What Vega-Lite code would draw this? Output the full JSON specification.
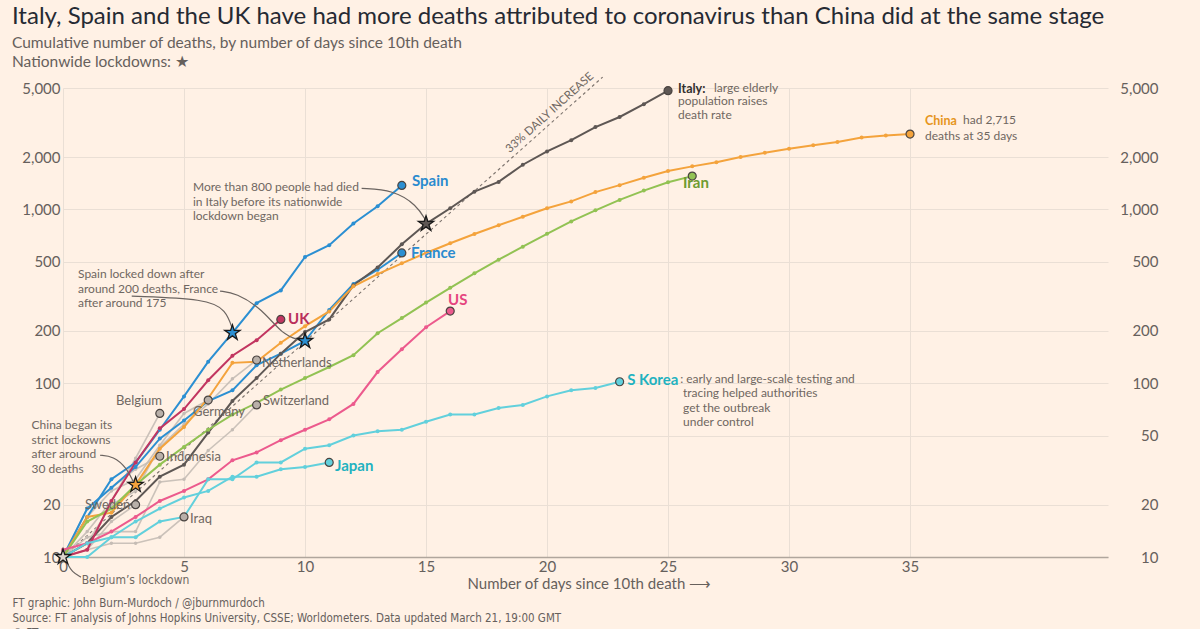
{
  "$schema": "https://vega.github.io/schema/vega-lite/v6.json",
  "width": 1045,
  "height": 469,
  "autosize": "none",
  "padding": {"left": 63, "top": 88, "right": 92, "bottom": 72},
  "background": "#fff1e5",
  "title": {
    "text": "Italy, Spain and the UK have had more deaths attributed to coronavirus than China did at the same stage",
    "subtitle": ["Cumulative number of deaths, by number of days since 10th death", "Nationwide lockdowns: ★"],
    "anchor": "start",
    "frame": "group",
    "dx": -51,
    "dy": 12,
    "offset": 12,
    "font": "Lato",
    "fontSize": 24,
    "fontWeight": "normal",
    "color": "#262a33",
    "subtitleFont": "Lato",
    "subtitleFontSize": 15.5,
    "subtitleColor": "#66605c",
    "subtitleLineHeight": 18.5,
    "subtitlePadding": 7
  },
  "datasets": {
    "deaths": [
      {"country": "Spain", "day": 0, "deaths": 10}, {"country": "Spain", "day": 1, "deaths": 17}, {"country": "Spain", "day": 2, "deaths": 28}, {"country": "Spain", "day": 3, "deaths": 35}, {"country": "Spain", "day": 4, "deaths": 54}, {"country": "Spain", "day": 5, "deaths": 84}, {"country": "Spain", "day": 6, "deaths": 133}, {"country": "Spain", "day": 7, "deaths": 195}, {"country": "Spain", "day": 8, "deaths": 289}, {"country": "Spain", "day": 9, "deaths": 342}, {"country": "Spain", "day": 10, "deaths": 533}, {"country": "Spain", "day": 11, "deaths": 623}, {"country": "Spain", "day": 12, "deaths": 830}, {"country": "Spain", "day": 13, "deaths": 1043}, {"country": "Spain", "day": 14, "deaths": 1375},
      {"country": "France", "day": 0, "deaths": 10}, {"country": "France", "day": 1, "deaths": 19}, {"country": "France", "day": 2, "deaths": 25}, {"country": "France", "day": 3, "deaths": 33}, {"country": "France", "day": 4, "deaths": 48}, {"country": "France", "day": 5, "deaths": 61}, {"country": "France", "day": 6, "deaths": 79}, {"country": "France", "day": 7, "deaths": 91}, {"country": "France", "day": 8, "deaths": 127}, {"country": "France", "day": 9, "deaths": 148}, {"country": "France", "day": 10, "deaths": 175}, {"country": "France", "day": 11, "deaths": 264}, {"country": "France", "day": 12, "deaths": 372}, {"country": "France", "day": 13, "deaths": 450}, {"country": "France", "day": 14, "deaths": 562},
      {"country": "Italy", "day": 0, "deaths": 10}, {"country": "Italy", "day": 1, "deaths": 12}, {"country": "Italy", "day": 2, "deaths": 17}, {"country": "Italy", "day": 3, "deaths": 21}, {"country": "Italy", "day": 4, "deaths": 29}, {"country": "Italy", "day": 5, "deaths": 34}, {"country": "Italy", "day": 6, "deaths": 52}, {"country": "Italy", "day": 7, "deaths": 79}, {"country": "Italy", "day": 8, "deaths": 107}, {"country": "Italy", "day": 9, "deaths": 148}, {"country": "Italy", "day": 10, "deaths": 197}, {"country": "Italy", "day": 11, "deaths": 233}, {"country": "Italy", "day": 12, "deaths": 366}, {"country": "Italy", "day": 13, "deaths": 463}, {"country": "Italy", "day": 14, "deaths": 631}, {"country": "Italy", "day": 15, "deaths": 827}, {"country": "Italy", "day": 16, "deaths": 1016}, {"country": "Italy", "day": 17, "deaths": 1266}, {"country": "Italy", "day": 18, "deaths": 1441}, {"country": "Italy", "day": 19, "deaths": 1809}, {"country": "Italy", "day": 20, "deaths": 2158}, {"country": "Italy", "day": 21, "deaths": 2503}, {"country": "Italy", "day": 22, "deaths": 2978}, {"country": "Italy", "day": 23, "deaths": 3405}, {"country": "Italy", "day": 24, "deaths": 4032}, {"country": "Italy", "day": 25, "deaths": 4825},
      {"country": "China", "day": 0, "deaths": 10}, {"country": "China", "day": 1, "deaths": 17}, {"country": "China", "day": 2, "deaths": 18}, {"country": "China", "day": 3, "deaths": 26}, {"country": "China", "day": 4, "deaths": 42}, {"country": "China", "day": 5, "deaths": 56}, {"country": "China", "day": 6, "deaths": 82}, {"country": "China", "day": 7, "deaths": 131}, {"country": "China", "day": 8, "deaths": 133}, {"country": "China", "day": 9, "deaths": 171}, {"country": "China", "day": 10, "deaths": 213}, {"country": "China", "day": 11, "deaths": 259}, {"country": "China", "day": 12, "deaths": 361}, {"country": "China", "day": 13, "deaths": 425}, {"country": "China", "day": 14, "deaths": 490}, {"country": "China", "day": 15, "deaths": 562}, {"country": "China", "day": 16, "deaths": 639}, {"country": "China", "day": 17, "deaths": 722}, {"country": "China", "day": 18, "deaths": 811}, {"country": "China", "day": 19, "deaths": 908}, {"country": "China", "day": 20, "deaths": 1016}, {"country": "China", "day": 21, "deaths": 1113}, {"country": "China", "day": 22, "deaths": 1259}, {"country": "China", "day": 23, "deaths": 1380}, {"country": "China", "day": 24, "deaths": 1523}, {"country": "China", "day": 25, "deaths": 1665}, {"country": "China", "day": 26, "deaths": 1770}, {"country": "China", "day": 27, "deaths": 1868}, {"country": "China", "day": 28, "deaths": 2004}, {"country": "China", "day": 29, "deaths": 2118}, {"country": "China", "day": 30, "deaths": 2236}, {"country": "China", "day": 31, "deaths": 2345}, {"country": "China", "day": 32, "deaths": 2442}, {"country": "China", "day": 33, "deaths": 2592}, {"country": "China", "day": 34, "deaths": 2663}, {"country": "China", "day": 35, "deaths": 2715},
      {"country": "Iran", "day": 0, "deaths": 10}, {"country": "Iran", "day": 1, "deaths": 16}, {"country": "Iran", "day": 2, "deaths": 19}, {"country": "Iran", "day": 3, "deaths": 26}, {"country": "Iran", "day": 4, "deaths": 34}, {"country": "Iran", "day": 5, "deaths": 43}, {"country": "Iran", "day": 6, "deaths": 54}, {"country": "Iran", "day": 7, "deaths": 66}, {"country": "Iran", "day": 8, "deaths": 77}, {"country": "Iran", "day": 9, "deaths": 92}, {"country": "Iran", "day": 10, "deaths": 107}, {"country": "Iran", "day": 11, "deaths": 124}, {"country": "Iran", "day": 12, "deaths": 145}, {"country": "Iran", "day": 13, "deaths": 194}, {"country": "Iran", "day": 14, "deaths": 237}, {"country": "Iran", "day": 15, "deaths": 291}, {"country": "Iran", "day": 16, "deaths": 354}, {"country": "Iran", "day": 17, "deaths": 429}, {"country": "Iran", "day": 18, "deaths": 514}, {"country": "Iran", "day": 19, "deaths": 611}, {"country": "Iran", "day": 20, "deaths": 724}, {"country": "Iran", "day": 21, "deaths": 853}, {"country": "Iran", "day": 22, "deaths": 988}, {"country": "Iran", "day": 23, "deaths": 1135}, {"country": "Iran", "day": 24, "deaths": 1284}, {"country": "Iran", "day": 25, "deaths": 1433}, {"country": "Iran", "day": 26, "deaths": 1556},
      {"country": "US", "day": 0, "deaths": 11}, {"country": "US", "day": 1, "deaths": 12}, {"country": "US", "day": 2, "deaths": 14}, {"country": "US", "day": 3, "deaths": 17}, {"country": "US", "day": 4, "deaths": 21}, {"country": "US", "day": 5, "deaths": 24}, {"country": "US", "day": 6, "deaths": 28}, {"country": "US", "day": 7, "deaths": 36}, {"country": "US", "day": 8, "deaths": 40}, {"country": "US", "day": 9, "deaths": 47}, {"country": "US", "day": 10, "deaths": 54}, {"country": "US", "day": 11, "deaths": 62}, {"country": "US", "day": 12, "deaths": 76}, {"country": "US", "day": 13, "deaths": 116}, {"country": "US", "day": 14, "deaths": 157}, {"country": "US", "day": 15, "deaths": 210}, {"country": "US", "day": 16, "deaths": 260},
      {"country": "UK", "day": 0, "deaths": 10}, {"country": "UK", "day": 1, "deaths": 11}, {"country": "UK", "day": 2, "deaths": 21}, {"country": "UK", "day": 3, "deaths": 35}, {"country": "UK", "day": 4, "deaths": 55}, {"country": "UK", "day": 5, "deaths": 71}, {"country": "UK", "day": 6, "deaths": 104}, {"country": "UK", "day": 7, "deaths": 144}, {"country": "UK", "day": 8, "deaths": 177}, {"country": "UK", "day": 9, "deaths": 233},
      {"country": "S Korea", "day": 0, "deaths": 10}, {"country": "S Korea", "day": 1, "deaths": 12}, {"country": "S Korea", "day": 2, "deaths": 13}, {"country": "S Korea", "day": 3, "deaths": 13}, {"country": "S Korea", "day": 4, "deaths": 16}, {"country": "S Korea", "day": 5, "deaths": 17}, {"country": "S Korea", "day": 6, "deaths": 28}, {"country": "S Korea", "day": 7, "deaths": 28}, {"country": "S Korea", "day": 8, "deaths": 35}, {"country": "S Korea", "day": 9, "deaths": 35}, {"country": "S Korea", "day": 10, "deaths": 42}, {"country": "S Korea", "day": 11, "deaths": 44}, {"country": "S Korea", "day": 12, "deaths": 50}, {"country": "S Korea", "day": 13, "deaths": 53}, {"country": "S Korea", "day": 14, "deaths": 54}, {"country": "S Korea", "day": 15, "deaths": 60}, {"country": "S Korea", "day": 16, "deaths": 66}, {"country": "S Korea", "day": 17, "deaths": 66}, {"country": "S Korea", "day": 18, "deaths": 72}, {"country": "S Korea", "day": 19, "deaths": 75}, {"country": "S Korea", "day": 20, "deaths": 84}, {"country": "S Korea", "day": 21, "deaths": 91}, {"country": "S Korea", "day": 22, "deaths": 94}, {"country": "S Korea", "day": 23, "deaths": 102},
      {"country": "Japan", "day": 0, "deaths": 10}, {"country": "Japan", "day": 1, "deaths": 10}, {"country": "Japan", "day": 2, "deaths": 13}, {"country": "Japan", "day": 3, "deaths": 16}, {"country": "Japan", "day": 4, "deaths": 19}, {"country": "Japan", "day": 5, "deaths": 22}, {"country": "Japan", "day": 6, "deaths": 24}, {"country": "Japan", "day": 7, "deaths": 29}, {"country": "Japan", "day": 8, "deaths": 29}, {"country": "Japan", "day": 9, "deaths": 32}, {"country": "Japan", "day": 10, "deaths": 33}, {"country": "Japan", "day": 11, "deaths": 35},
      {"country": "Belgium", "day": 0, "deaths": 10}, {"country": "Belgium", "day": 1, "deaths": 14}, {"country": "Belgium", "day": 2, "deaths": 21}, {"country": "Belgium", "day": 3, "deaths": 37}, {"country": "Belgium", "day": 4, "deaths": 67},
      {"country": "Germany", "day": 0, "deaths": 10}, {"country": "Germany", "day": 1, "deaths": 17}, {"country": "Germany", "day": 2, "deaths": 24}, {"country": "Germany", "day": 3, "deaths": 28}, {"country": "Germany", "day": 4, "deaths": 44}, {"country": "Germany", "day": 5, "deaths": 67}, {"country": "Germany", "day": 6, "deaths": 80},
      {"country": "Netherlands", "day": 0, "deaths": 10}, {"country": "Netherlands", "day": 1, "deaths": 12}, {"country": "Netherlands", "day": 2, "deaths": 20}, {"country": "Netherlands", "day": 3, "deaths": 24}, {"country": "Netherlands", "day": 4, "deaths": 43}, {"country": "Netherlands", "day": 5, "deaths": 58}, {"country": "Netherlands", "day": 6, "deaths": 76}, {"country": "Netherlands", "day": 7, "deaths": 106}, {"country": "Netherlands", "day": 8, "deaths": 136},
      {"country": "Switzerland", "day": 0, "deaths": 10}, {"country": "Switzerland", "day": 1, "deaths": 13}, {"country": "Switzerland", "day": 2, "deaths": 14}, {"country": "Switzerland", "day": 3, "deaths": 14}, {"country": "Switzerland", "day": 4, "deaths": 27}, {"country": "Switzerland", "day": 5, "deaths": 28}, {"country": "Switzerland", "day": 6, "deaths": 41}, {"country": "Switzerland", "day": 7, "deaths": 54}, {"country": "Switzerland", "day": 8, "deaths": 75},
      {"country": "Indonesia", "day": 0, "deaths": 10}, {"country": "Indonesia", "day": 1, "deaths": 19}, {"country": "Indonesia", "day": 2, "deaths": 25}, {"country": "Indonesia", "day": 3, "deaths": 32}, {"country": "Indonesia", "day": 4, "deaths": 38},
      {"country": "Sweden", "day": 0, "deaths": 10}, {"country": "Sweden", "day": 1, "deaths": 11}, {"country": "Sweden", "day": 2, "deaths": 16}, {"country": "Sweden", "day": 3, "deaths": 20},
      {"country": "Iraq", "day": 0, "deaths": 10}, {"country": "Iraq", "day": 1, "deaths": 11}, {"country": "Iraq", "day": 2, "deaths": 12}, {"country": "Iraq", "day": 3, "deaths": 12}, {"country": "Iraq", "day": 4, "deaths": 13}, {"country": "Iraq", "day": 5, "deaths": 17}
    ],
    "reference": [
      {"day": 0, "deaths": 10},
      {"day": 22.3, "deaths": 5780}
    ],
    "lockdowns": [
      {"country": "Belgium", "day": 0, "deaths": 10},
      {"country": "China", "day": 3, "deaths": 26},
      {"country": "Spain", "day": 7, "deaths": 195},
      {"country": "France", "day": 10, "deaths": 175},
      {"country": "Italy", "day": 15, "deaths": 827}
    ],
    "connectors": [
      {"note": "italy", "step": 1, "day": 12.34, "deaths": 1322}, {"note": "italy", "step": 2, "day": 13.65, "deaths": 1293}, {"note": "italy", "step": 3, "day": 14.62, "deaths": 1059}, {"note": "italy", "step": 4, "day": 15.0, "deaths": 860},
      {"note": "spain", "step": 1, "day": 2.84, "deaths": 317}, {"note": "spain", "step": 2, "day": 5.94, "deaths": 306}, {"note": "spain", "step": 3, "day": 6.74, "deaths": 264}, {"note": "spain", "step": 4, "day": 7.0, "deaths": 205},
      {"note": "france", "step": 1, "day": 6.49, "deaths": 339}, {"note": "france", "step": 2, "day": 7.15, "deaths": 331}, {"note": "france", "step": 3, "day": 8.22, "deaths": 268}, {"note": "france", "step": 4, "day": 9.09, "deaths": 189}, {"note": "france", "step": 5, "day": 9.79, "deaths": 177},
      {"note": "china", "step": 1, "day": 1.53, "deaths": 38.5}, {"note": "china", "step": 2, "day": 2.08, "deaths": 38.0}, {"note": "china", "step": 3, "day": 2.63, "deaths": 32.6}, {"note": "china", "step": 4, "day": 2.9, "deaths": 27.2},
      {"note": "belgium", "step": 1, "day": 0.74, "deaths": 7.66}, {"note": "belgium", "step": 2, "day": 0.37, "deaths": 8.19}, {"note": "belgium", "step": 3, "day": 0.17, "deaths": 9.23}
    ],
    "labels": [
      {"country": "Spain", "day": 14.42, "deaths": 1452, "text": "Spain"},
      {"country": "France", "day": 14.38, "deaths": 564, "text": "France"},
      {"country": "UK", "day": 9.3, "deaths": 234, "text": "UK"},
      {"country": "US", "day": 15.91, "deaths": 302, "text": "US"},
      {"country": "Iran", "day": 25.62, "deaths": 1413, "text": "Iran"},
      {"country": "Japan", "day": 11.24, "deaths": 33.6, "text": "Japan"},
      {"country": "S Korea", "day": 23.31, "deaths": 104, "text": "S Korea"}
    ],
    "keylabels": [
      {"country": "Italy", "day": 25.41, "deaths": 4943, "text": "Italy:"},
      {"country": "China", "day": 35.62, "deaths": 3227, "text": "China"}
    ],
    "greylabels": [
      {"day": 2.19, "deaths": 78.7, "text": "Belgium"},
      {"day": 5.37, "deaths": 68, "text": "Germany"},
      {"day": 8.22, "deaths": 130.5, "text": "Netherlands"},
      {"day": 8.26, "deaths": 78.7, "text": "Switzerland"},
      {"day": 4.26, "deaths": 37.8, "text": "Indonesia"},
      {"day": 0.91, "deaths": 20, "text": "Sweden"},
      {"day": 5.25, "deaths": 16.6, "text": "Iraq"}
    ],
    "notes": [
      {"day": 26.9, "deaths": 5350, "text": "large elderly"},
      {"day": 25.41, "deaths": 4500, "text": "population raises\ndeath rate"},
      {"day": 37.19, "deaths": 3494, "text": "had 2,715"},
      {"day": 35.62, "deaths": 2825, "text": "deaths at 35 days"},
      {"day": 25.5, "deaths": 112.7, "text": ": early and large-scale testing and"},
      {"day": 25.62, "deaths": 93.6, "text": "tracing helped authorities\nget the outbreak\nunder control"},
      {"day": 5.37, "deaths": 1432, "text": "More than 800 people had died\nin Italy before its nationwide\nlockdown began"},
      {"day": 0.62, "deaths": 452, "text": "Spain locked down after\naround 200 deaths, France\nafter around 175"},
      {"day": -1.3, "deaths": 61.4, "text": "China began its\nstrict lockowns\nafter around\n30 deaths"}
    ],
    "smallnotes": [
      {"day": 0.77, "deaths": 7.87, "text": "Belgium’s lockdown"}
    ],
    "slope": [
      {"day": 20.12, "deaths": 3589, "text": "33% DAILY INCREASE"}
    ]
  },
  "encoding": {
    "x": {
      "field": "day",
      "type": "quantitative",
      "scale": {"domain": [0, 43.18], "nice": false, "zero": false},
      "axis": {
        "values": [0, 5, 10, 15, 20, 25, 30, 35],
        "title": "Number of days since 10th death ⟶",
        "titleX": 404,
        "titleY": 26,
        "titleAlign": "left",
        "titleAnchor": "start",
        "titleBaseline": "middle",
        "titleFontSize": 15,
        "titleFontWeight": "normal",
        "titleColor": "#66605c",
        "grid": true,
        "gridColor": "#eadfd5",
        "domainColor": "#b0a69d",
        "domainWidth": 1.5,
        "ticks": false,
        "labelFontSize": 15,
        "labelColor": "#66605c",
        "labelPadding": 2,
        "labelFlush": false
      }
    },
    "y": {
      "field": "deaths",
      "type": "quantitative",
      "scale": {"type": "log", "domain": [10, 5000], "nice": false},
      "axis": null
    }
  },
  "layer": [
    {
      "data": {"name": "reference"},
      "mark": {"type": "line", "strokeDash": [3, 3], "color": "#7d746e", "strokeWidth": 1.1},
      "encoding": {
        "y": {
          "field": "deaths",
          "type": "quantitative",
          "scale": {"type": "log", "domain": [10, 5000], "nice": false},
          "axis": {
            "orient": "left",
            "values": [10, 20, 100, 200, 500, 1000, 2000, 5000],
            "format": ",",
            "title": null,
            "grid": false,
            "domain": false,
            "ticks": false,
            "labelFontSize": 15,
            "labelColor": "#66605c",
            "labelPadding": 3
          }
        }
      }
    },
    {
      "data": {"name": "deaths"},
      "transform": [{"filter": {"field": "country", "oneOf": ["Belgium", "Germany", "Netherlands", "Switzerland", "Indonesia", "Sweden", "Iraq"]}}],
      "mark": {"type": "line", "strokeWidth": 1.6, "color": "#c5bcb5", "opacity": 0.9},
      "encoding": {
        "detail": {"field": "country"},
        "y": {
          "field": "deaths",
          "type": "quantitative",
          "scale": {"type": "log", "domain": [10, 5000], "nice": false},
          "axis": {
            "orient": "right",
            "values": [10, 20, 50, 100, 200, 500, 1000, 2000, 5000],
            "format": ",",
            "grid": true,
            "gridColor": "#eadfd5",
            "domain": false,
            "ticks": false,
            "labelFontSize": 15,
            "labelColor": "#66605c",
            "labelAlign": "right",
            "labelPadding": 50,
            "title": ["FT graphic: John Burn-Murdoch / @jburnmurdoch", "Source: FT analysis of Johns Hopkins University, CSSE; Worldometers. Data updated March 21, 19:00 GMT", "© FT"],
            "titleAngle": 0,
            "titleX": -1096,
            "titleY": 509,
            "titleAlign": "left",
            "titleBaseline": "top",
            "titleFont": "DejaVu Sans Condensed, Lato, sans-serif",
            "titleFontSize": 11.5,
            "titleFontWeight": "normal",
            "titleColor": "#66605c",
            "titleLineHeight": 15
          }
        }
      }
    },
    {
      "data": {"name": "deaths"},
      "transform": [{"filter": {"field": "country", "oneOf": ["Belgium", "Germany", "Netherlands", "Switzerland", "Indonesia", "Sweden", "Iraq"]}}],
      "mark": {"type": "circle", "size": 12, "color": "#c5bcb5", "opacity": 1}
    },
    {
      "data": {"name": "deaths"},
      "transform": [{"filter": {"field": "country", "oneOf": ["Japan", "S Korea", "US", "Iran", "China", "Italy", "France", "UK", "Spain"]}}],
      "mark": {"type": "line", "strokeWidth": 2},
      "encoding": {
        "color": {
          "field": "country",
          "type": "nominal",
          "legend": null,
          "scale": {
            "domain": ["Spain", "France", "Italy", "China", "Iran", "US", "UK", "S Korea", "Japan"],
            "range": ["#2b8fd2", "#2b8fd2", "#5e5754", "#f4a33c", "#92c253", "#ec5a8d", "#c23560", "#62d0dc", "#62d0dc"]
          }
        }
      }
    },
    {
      "data": {"name": "deaths"},
      "transform": [{"filter": {"field": "country", "oneOf": ["Japan", "S Korea", "US", "Iran", "China", "Italy", "France", "UK", "Spain"]}}],
      "mark": {"type": "circle", "size": 16, "opacity": 1},
      "encoding": {
        "color": {
          "field": "country",
          "type": "nominal",
          "legend": null,
          "scale": {
            "domain": ["Spain", "France", "Italy", "China", "Iran", "US", "UK", "S Korea", "Japan"],
            "range": ["#2b8fd2", "#2b8fd2", "#5e5754", "#f4a33c", "#92c253", "#ec5a8d", "#c23560", "#62d0dc", "#62d0dc"]
          }
        }
      }
    },
    {
      "data": {"name": "deaths"},
      "transform": [
        {"joinaggregate": [{"op": "max", "field": "day", "as": "last"}], "groupby": ["country"]},
        {"filter": "datum.day === datum.last"}
      ],
      "mark": {"type": "point", "shape": "circle", "filled": true, "size": 64, "stroke": "#4a4441", "strokeWidth": 1.2, "opacity": 1},
      "encoding": {
        "fill": {
          "field": "country",
          "type": "nominal",
          "legend": null,
          "scale": {
            "domain": ["Spain", "France", "Italy", "China", "Iran", "US", "UK", "S Korea", "Japan", "Belgium", "Germany", "Netherlands", "Switzerland", "Indonesia", "Sweden", "Iraq"],
            "range": ["#2b8fd2", "#2b8fd2", "#5e5754", "#f4a33c", "#92c253", "#ec5a8d", "#c23560", "#62d0dc", "#62d0dc", "#b9b0a9", "#b9b0a9", "#b9b0a9", "#b9b0a9", "#b9b0a9", "#b9b0a9", "#b9b0a9"]
          }
        }
      }
    },
    {
      "data": {"name": "connectors"},
      "mark": {"type": "line", "interpolate": "basis", "color": "#6b6460", "strokeWidth": 1.2},
      "encoding": {
        "detail": {"field": "note"},
        "order": {"field": "step", "type": "quantitative"}
      }
    },
    {
      "data": {"name": "lockdowns"},
      "mark": {
        "type": "point",
        "shape": "M0,-1L0.2245,-0.309L0.951,-0.309L0.363,0.118L0.588,0.809L0,0.382L-0.588,0.809L-0.363,0.118L-0.951,-0.309L-0.2245,-0.309Z",
        "filled": true,
        "size": 260,
        "stroke": "#1a1a1a",
        "strokeWidth": 1.3,
        "opacity": 1
      },
      "encoding": {
        "fill": {
          "field": "country",
          "type": "nominal",
          "legend": null,
          "scale": {
            "domain": ["Belgium", "China", "Spain", "France", "Italy"],
            "range": ["#ddd5ce", "#f4a33c", "#2b8fd2", "#2b8fd2", "#5e5754"]
          }
        }
      }
    },
    {
      "data": {"name": "labels"},
      "mark": {"type": "text", "align": "left", "baseline": "middle", "fontSize": 15, "fontWeight": "bold", "font": "Lato"},
      "encoding": {
        "text": {"field": "text"},
        "color": {
          "field": "country",
          "type": "nominal",
          "legend": null,
          "scale": {
            "domain": ["Spain", "France", "UK", "US", "Iran", "Japan", "S Korea"],
            "range": ["#2a8bcf", "#2a8bcf", "#b92e5a", "#e5457f", "#6e9b31", "#1fb2c0", "#1fb2c0"]
          }
        }
      }
    },
    {
      "data": {"name": "keylabels"},
      "mark": {"type": "text", "align": "left", "baseline": "middle", "fontSize": 12.5, "fontWeight": "bold", "font": "Lato"},
      "encoding": {
        "text": {"field": "text"},
        "color": {
          "field": "country",
          "type": "nominal",
          "legend": null,
          "scale": {"domain": ["Italy", "China"], "range": ["#33302e", "#e69520"]}
        }
      }
    },
    {
      "data": {"name": "greylabels"},
      "mark": {"type": "text", "align": "left", "baseline": "middle", "fontSize": 13, "color": "#6f6761", "font": "Lato"},
      "encoding": {"text": {"field": "text"}}
    },
    {
      "data": {"name": "notes"},
      "mark": {"type": "text", "align": "left", "baseline": "top", "fontSize": 12, "lineHeight": 14.5, "lineBreak": "\n", "color": "#6f6761", "font": "Lato"},
      "encoding": {"text": {"field": "text"}}
    },
    {
      "data": {"name": "smallnotes"},
      "mark": {"type": "text", "align": "left", "baseline": "top", "fontSize": 12, "color": "#6f6761", "font": "DejaVu Sans Condensed, Lato, sans-serif"},
      "encoding": {"text": {"field": "text"}}
    },
    {
      "data": {"name": "slope"},
      "mark": {"type": "text", "align": "center", "baseline": "middle", "fontSize": 11.5, "angle": 318, "color": "#6f6761", "font": "Lato"},
      "encoding": {"text": {"field": "text"}}
    }
  ],
  "resolve": {"scale": {"color": "independent", "fill": "independent"}, "axis": {"y": "independent"}},
  "config": {
    "font": "Lato",
    "view": {"stroke": null},
    "axis": {"labelFont": "Lato", "titleFont": "Lato"}
  }
}
